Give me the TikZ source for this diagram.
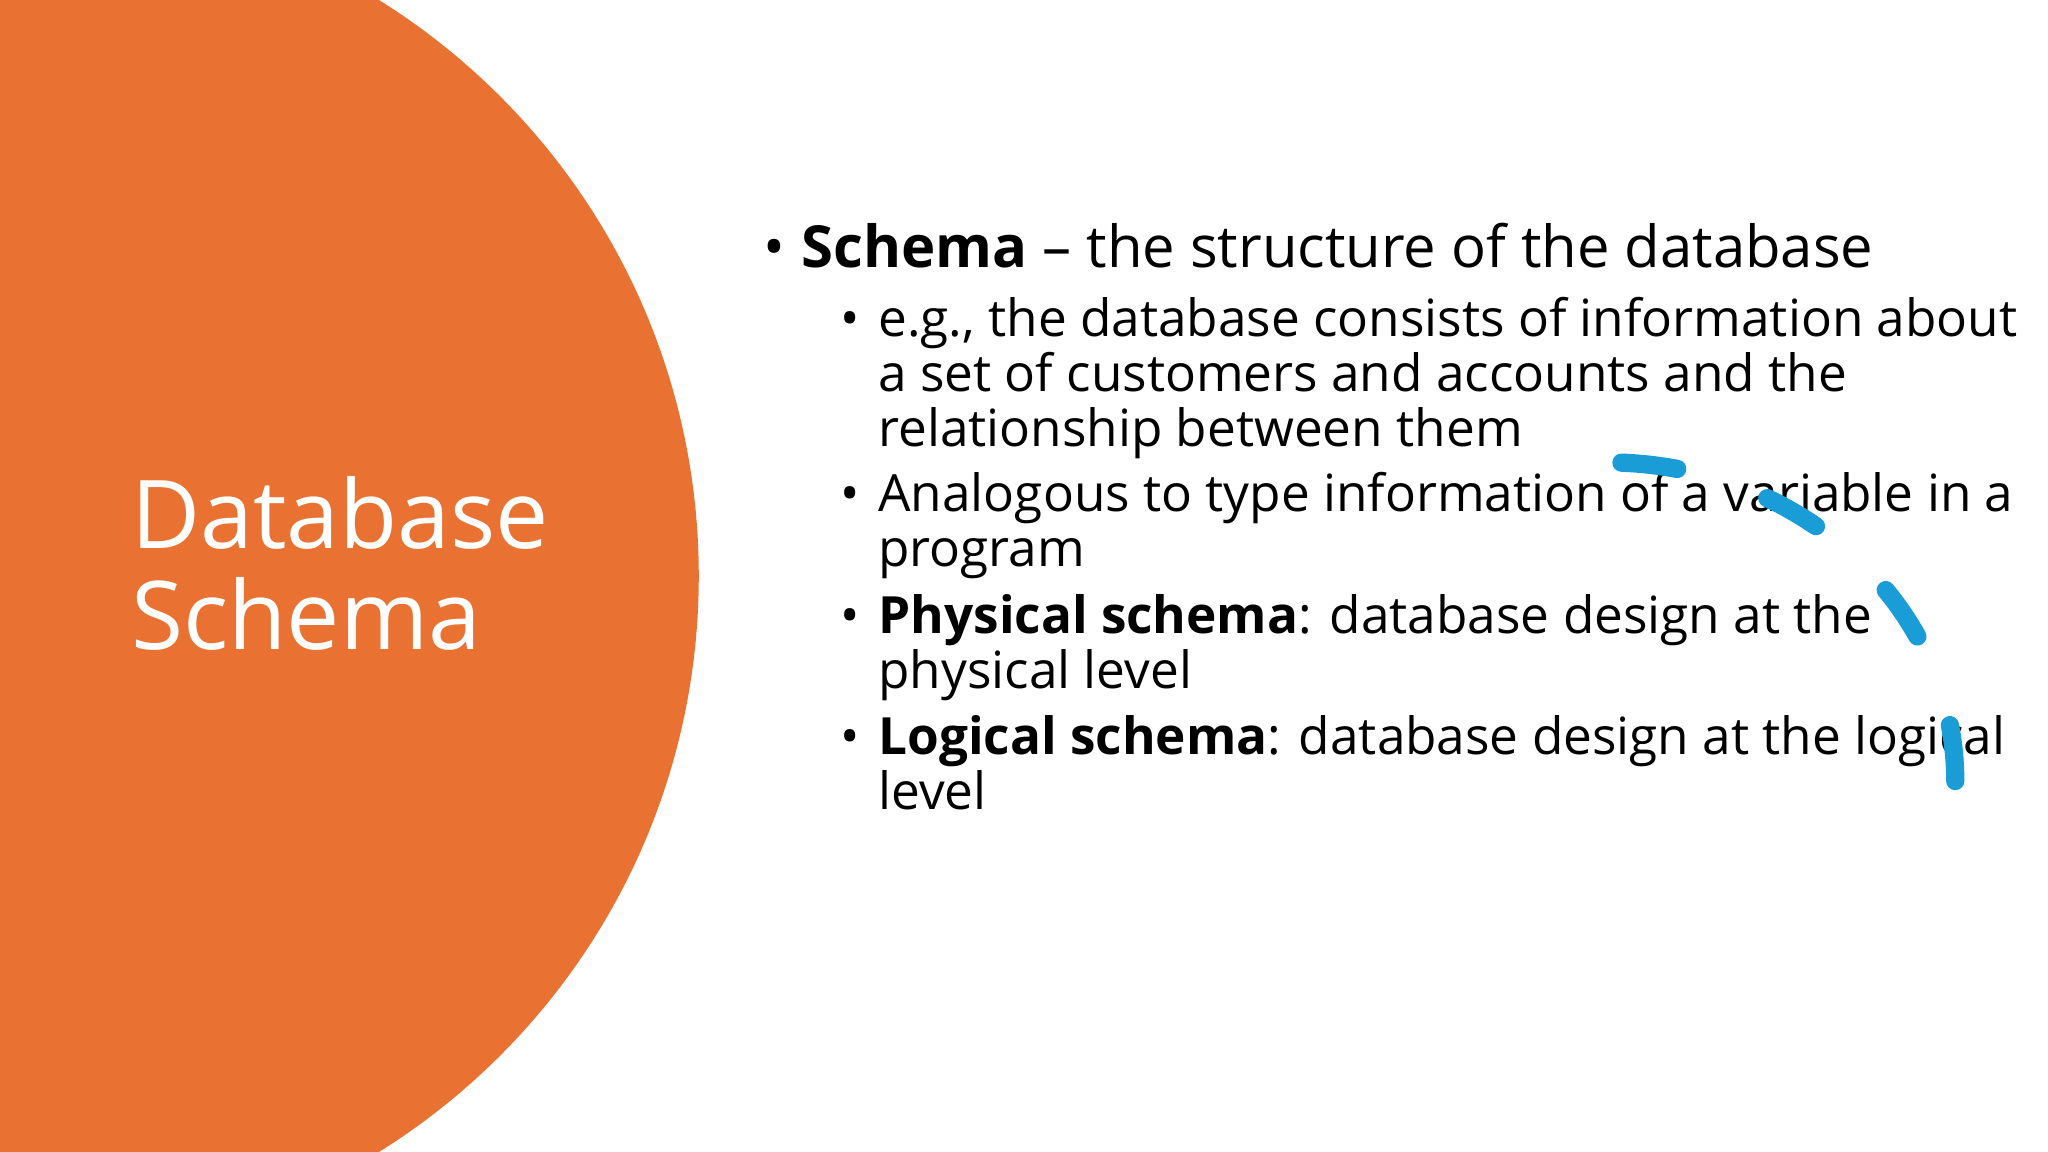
\documentclass[tikz,border=0pt]{standalone}
\usepackage{fontspec}
\setmainfont{Open Sans}
\definecolor{orng}{HTML}{E97132}
\definecolor{blu}{HTML}{1A9CD6}
\begin{document}
\begin{tikzpicture}[x=0.01306cm,y=-0.01306cm,
  title/.style={anchor=base west,inner sep=0,text=white,font=\fontsize{27}{28}\selectfont},
  lvlone/.style={anchor=base west,inner sep=0,font=\fontsize{16.5}{18}\selectfont},
  lvltwo/.style={anchor=base west,inner sep=0,font=\fontsize{14.6}{16}\selectfont}]
\useasboundingbox (0,0) rectangle (1568,882);
\fill[white] (0,0) rectangle (1568,882);
\begin{scope}
\clip (0,0) rectangle (1568,882);
\fill[orng] (15.6,441) circle[radius=519.4];
\end{scope}
\node[title] (t1) at (100,420) {Database};
\node[title] (t2) at (100,497) {Schema};
\node[lvlone] (b0) at (584,205) {•};
\node[lvlone] (l0) at (613,205) {\textbf{Schema} – the structure of the database};
\foreach \y/\txt [count=\i] in {258/{e.g., the database consists of information about},
 300/{a set of customers and accounts and the},
 342/{relationship between them},
 392/{Analogous to type information of a variable in a},
 434/{program},
 485/{\textbf{Physical schema}: database design at the},
 527/{physical level},
 578/{\textbf{Logical schema}: database design at the logical},
 620/{level}}
 {\node[lvltwo] (s\i) at (672,\y) {\txt};}
\foreach \y [count=\i] in {258,392,485,578}
 {\node[lvltwo] (sb\i) at (643,\y) {•};}
\draw[blu,line width=5.2pt,line cap=round,dash pattern=on 16pt off 27pt]
  (1497,598) arc[start angle=0,end angle=90,x radius=267,y radius=-244];
\end{tikzpicture}
\end{document}
